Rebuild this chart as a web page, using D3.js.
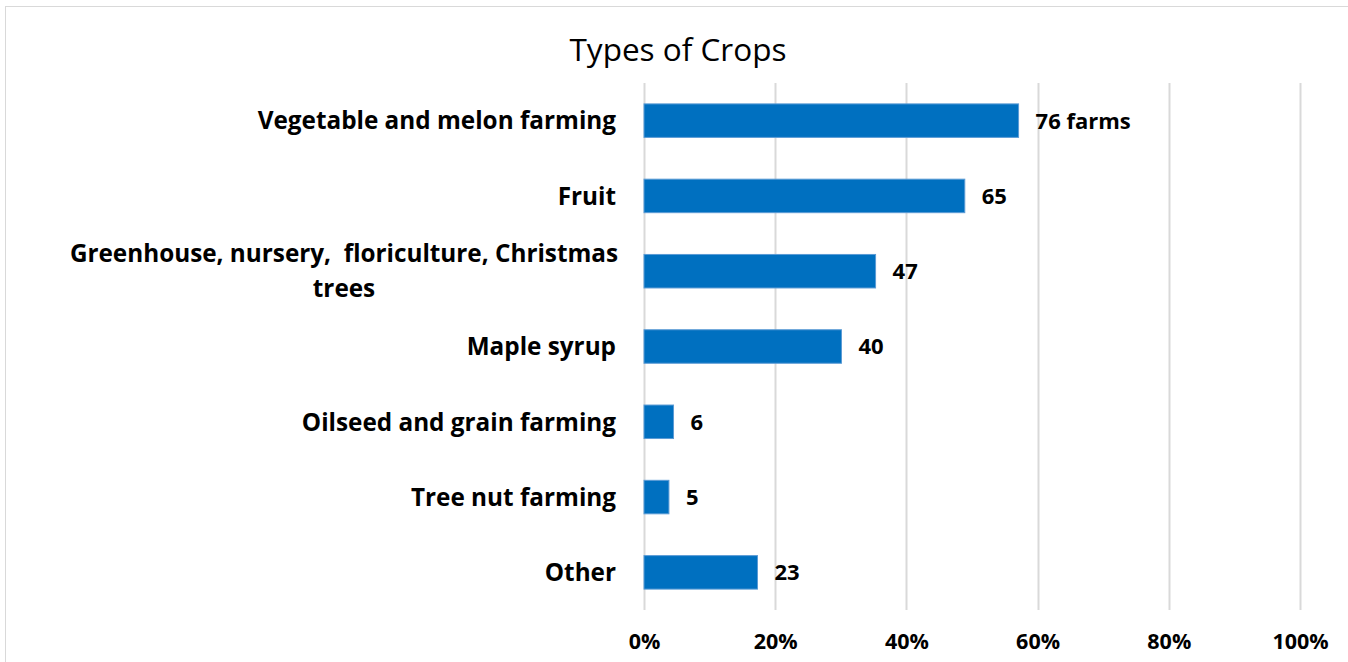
<!DOCTYPE html>
<html>
<head>
<meta charset="utf-8">
<script src="https://cdn.jsdelivr.net/npm/d3@7/dist/d3.min.js"></script>
<style>
  html, body { margin: 0; padding: 0; background: #fff; }
  svg { display: block; }
  text { font-family: "Open Sans", Lato, sans-serif; fill: #000; }
</style>
</head>
<body>
<svg id="chart" width="1348" height="662"></svg>
<script>
const categories = [
  "Vegetable and melon farming",
  "Fruit",
  "Greenhouse, nursery,  floriculture, Christmas trees",
  "Maple syrup",
  "Oilseed and grain farming",
  "Tree nut farming",
  "Other"
];
const categoryLines = [
  ["Vegetable and melon farming"],
  ["Fruit"],
  ["Greenhouse, nursery,  floriculture, Christmas", "trees"],
  ["Maple syrup"],
  ["Oilseed and grain farming"],
  ["Tree nut farming"],
  ["Other"]
];
const percentages = [57.1, 48.9, 35.3, 30.1, 4.5, 3.8, 17.3];
const farmCounts = [76, 65, 47, 40, 6, 5, 23];
const dataLabels = ["76 farms", "65", "47", "40", "6", "5", "23"];
const tickValues = [0, 20, 40, 60, 80, 100];
const tickLabels = ["0%", "20%", "40%", "60%", "80%", "100%"];
const title = "Types of Crops";

const svg = d3.select("#chart");

// chart frame
svg.append("rect")
  .attr("x", 5.5).attr("y", 6.5)
  .attr("width", 1400).attr("height", 700)
  .attr("fill", "none").attr("stroke", "#d9d9d9").attr("stroke-width", 1);

const plot = { left: 644, right: 1300, top: 83, bottom: 610 };

const x = d3.scaleLinear().domain([0, 100]).range([plot.left, plot.right]);
const y = d3.scaleBand().domain(categories).range([plot.top, plot.bottom]).paddingInner(0.555).paddingOuter(0.2775);

// gridlines
svg.append("g")
  .selectAll("line")
  .data(tickValues)
  .join("line")
  .attr("x1", d => Math.round(x(d)) + 0.5)
  .attr("x2", d => Math.round(x(d)) + 0.5)
  .attr("y1", plot.top)
  .attr("y2", plot.bottom)
  .attr("stroke", "#d9d9d9")
  .attr("stroke-width", 2);

// x axis labels
const xAxis = d3.axisBottom(x).tickValues(tickValues).tickFormat((d, i) => tickLabels[i]).tickSize(0).tickPadding(0);
const gx = svg.append("g").attr("transform", `translate(0, ${plot.bottom + 24})`).call(xAxis);
gx.select(".domain").remove();
gx.selectAll("text")
  .style("font-family", "'Open Sans', sans-serif")
  .style("font-weight", "bold")
  .style("font-size", "21.5px")
  .attr("fill", "#000");

// bars
svg.append("g")
  .selectAll("rect")
  .data(categories)
  .join("rect")
  .attr("x", x(0))
  .attr("y", d => y(d))
  .attr("width", (d, i) => x(percentages[i]) - x(0))
  .attr("height", y.bandwidth())
  .attr("fill", "#0070c0")
  .attr("stroke", "#5b9bd5")
  .attr("stroke-width", 1);

// data labels
svg.append("g")
  .selectAll("text")
  .data(categories)
  .join("text")
  .attr("x", (d, i) => x(percentages[i]) + 17)
  .attr("y", d => y(d) + y.bandwidth() / 2)
  .attr("dy", "0.36em")
  .style("font-weight", "bold")
  .style("font-size", "22px")
  .text((d, i) => dataLabels[i]);

// category labels
const yAxis = svg.append("g");
categories.forEach((c, i) => {
  const lines = categoryLines[i];
  const cy = y(c) + y.bandwidth() / 2;
  const lineH = 35;
  const multi = lines.length > 1;
  const t = yAxis.append("text")
    .attr("text-anchor", multi ? "middle" : "end")
    .style("font-weight", "bold")
    .style("font-size", "24.3px")
    .style("white-space", "pre");
  lines.forEach((ln, j) => {
    t.append("tspan")
      .attr("x", multi ? 344 : 616)
      .attr("y", cy + (j - (lines.length - 1) / 2) * lineH)
      .attr("dy", "0.36em")
      .text(ln);
  });
});

// title
svg.append("text")
  .attr("x", 678)
  .attr("y", 50)
  .attr("text-anchor", "middle")
  .attr("dy", "0.36em")
  .style("font-size", "31.5px")
  .text(title);
</script>
</body>
</html>
